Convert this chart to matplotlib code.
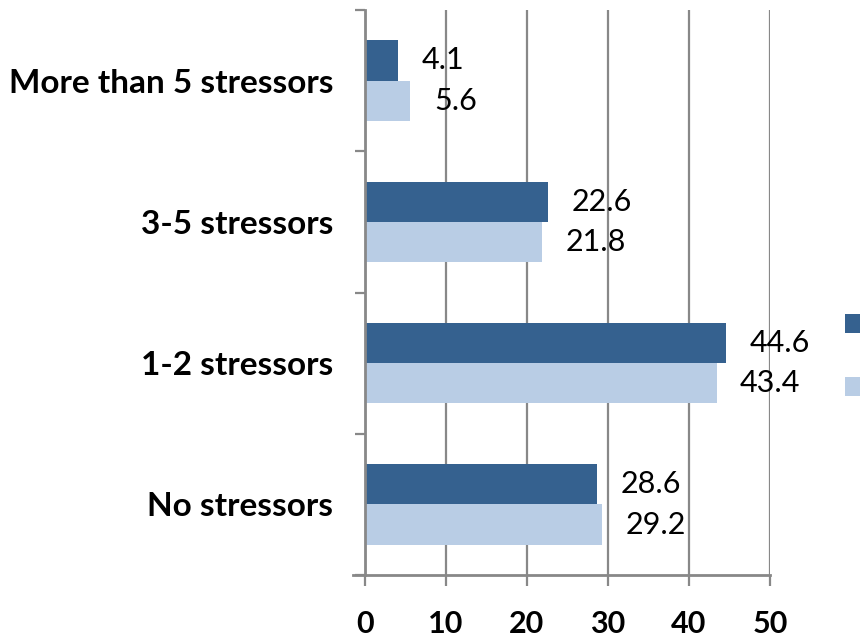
import matplotlib
matplotlib.use("Agg")
import matplotlib.pyplot as plt
import numpy as np

plt.rcParams['font.family'] = ['Lato', 'DejaVu Sans']

categories = ["No stressors", "1-2 stressors", "3-5 stressors", "More than 5 stressors"]
series_a = [28.6, 44.6, 22.6, 4.1]
series_b = [29.2, 43.4, 21.8, 5.6]
x_ticks = [0, 10, 20, 30, 40, 50]

dark = "#35618F"
light = "#B9CDE5"
grey = "#888888"

fig = plt.figure(figsize=(8.6, 6.38), dpi=100)
ax = fig.add_axes([365 / 860, 1 - 575 / 638, (770 - 365) / 860, (575 - 10) / 638])

y = np.arange(len(categories))
h = 0.285
b1 = ax.barh(y + h / 2, series_a, height=h, color=dark, zorder=2)
b2 = ax.barh(y - h / 2, series_b, height=h, color=light, zorder=2)

for bars, vals in ((b1, series_a), (b2, series_b)):
    for rect, v in zip(bars, vals):
        ax.annotate(f"{v}", xy=(v, rect.get_y() + rect.get_height() / 2),
                    xytext=(17, 0), textcoords="offset points",
                    ha="left", va="center", fontsize=22, color="black", zorder=4)

ax.set_xlim(0, 50)
ax.set_ylim(-0.5, len(categories) - 0.5)
ax.set_xticks(x_ticks)
ax.set_xticklabels([str(t) for t in x_ticks], fontsize=22, fontweight="bold")
ax.set_yticks(y)
ax.set_yticklabels(categories, fontsize=24, fontweight="bold")
ax.set_yticks(np.arange(-0.5, len(categories), 1.0), minor=True)

ax.tick_params(axis="y", which="major", length=0, pad=23)
ax.tick_params(axis="y", which="minor", length=7, width=1.6, color=grey, direction="out")
ax.tick_params(axis="x", which="major", length=8, width=1.6, color=grey, direction="out", pad=17)

ax.xaxis.grid(True, color=grey, linewidth=1.6, zorder=0)
ax.set_axisbelow(True)
for s in ("top", "right"):
    ax.spines[s].set_visible(False)
for s in ("left", "bottom"):
    ax.spines[s].set_color(grey)
    ax.spines[s].set_linewidth(2.0)
ax.spines["bottom"].set_bounds(-1.5, 50)

# legend keys sit at the right edge; their captions run past the canvas
fig.legend(handles=[b1, b2], labels=["", ""], loc="upper left",
           bbox_to_anchor=(845 / 860, 1 - 313 / 638), frameon=False,
           fontsize=18, handlelength=0.8, handleheight=0.8,
           labelspacing=1.6, borderpad=0, borderaxespad=0, handletextpad=0.8)

fig.savefig("out.png", dpi=100)
